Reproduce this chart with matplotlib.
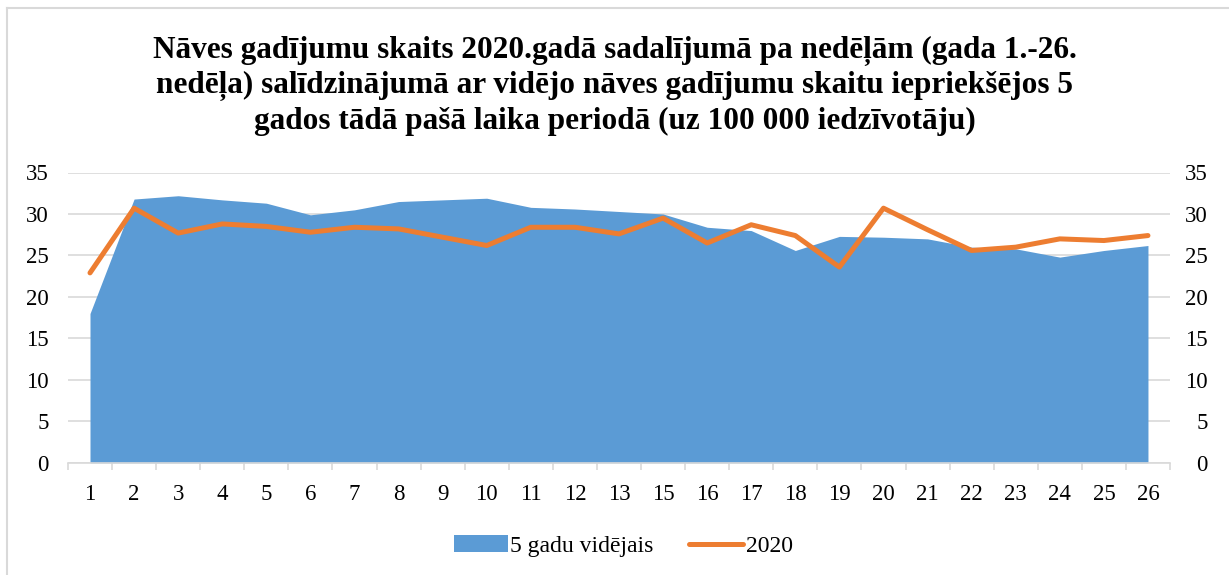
import numpy as np
import matplotlib.pyplot as plt
from matplotlib.patches import Patch
from matplotlib.lines import Line2D

plt.rcParams['font.family'] = ['Liberation Serif', 'DejaVu Serif']

weeks = ['1', '2', '3', '4', '5', '6', '7', '8', '9', '10', '11', '12', '13',
         '15', '16', '17', '18', '19', '20', '21', '22', '23', '24', '25', '26']
avg5 = [18.0, 31.8, 32.2, 31.7, 31.3, 29.9, 30.5, 31.5, 31.7, 31.9, 30.8, 30.6, 30.3,
        30.0, 28.4, 28.0, 25.6, 27.3, 27.2, 27.0, 26.0, 25.8, 24.8, 25.6, 26.2]
y2020 = [22.9, 30.7, 27.7, 28.8, 28.5, 27.8, 28.4, 28.2, 27.2, 26.2, 28.4, 28.4, 27.6,
         29.5, 26.5, 28.7, 27.4, 23.6, 30.7, 28.1, 25.6, 26.0, 27.0, 26.8, 27.4]

blue = '#5B9BD5'
orange = '#ED7D31'
grid = '#D9D9D9'

fig = plt.figure(figsize=(12.29, 5.75), dpi=100)
ax = fig.add_axes([0.0553, 0.195, 0.8967, 0.505])
x = np.arange(len(weeks))

ax.fill_between(x, 0, avg5, color=blue, lw=0, zorder=2)
ax.plot(x, y2020, color=orange, lw=3.6, solid_capstyle='round', solid_joinstyle='round', zorder=3)

ax.set_xlim(-0.5, len(weeks) - 0.5)
ax.set_ylim(0, 35)
ax.set_yticks(range(0, 36, 5))
ax.yaxis.grid(True, color=grid, lw=1.2, zorder=0)
ax.set_axisbelow(True)
for s in ['top', 'right', 'left']:
    ax.spines[s].set_visible(False)
ax.spines['bottom'].set_color(grid)
ax.spines['bottom'].set_linewidth(1.2)

ax.set_xticks(x)
ax.set_xticklabels(weeks)
ax.set_xticks(np.arange(-0.5, len(weeks)), minor=True)
ax.tick_params(axis='x', which='major', length=0, pad=15, labelsize=16.5)
ax.tick_params(axis='x', which='minor', length=5, color=grid, width=1.2)
ax.tick_params(axis='y', length=0, pad=14, labelsize=16.5)

ax2 = ax.twinx()
ax2.set_ylim(0, 35)
ax2.set_yticks(range(0, 36, 5))
for s in ax2.spines.values():
    s.set_visible(False)
ax2.tick_params(axis='y', length=0, pad=27, labelsize=16.5)
for lab in ax2.get_yticklabels():
    lab.set_horizontalalignment('right')

fig.text(0.5, 0.851, 'Nāves gadījumu skaits 2020.gadā sadalījumā pa nedēļām (gada 1.-26.\n'
         'nedēļa) salīdzinājumā ar vidējo nāves gadījumu skaitu iepriekšējos 5\n'
         'gados tādā pašā laika periodā (uz 100 000 iedzīvotāju)',
         ha='center', va='center', fontsize=22.5, fontweight='bold', linespacing=1.25)

handles = [Patch(facecolor=blue, edgecolor='none'),
           Line2D([0], [0], color=orange, lw=3.6, solid_capstyle='round')]
fig.legend(handles, ['5 gadu vidējais', '2020'], loc='center', bbox_to_anchor=(0.507, 0.05),
           ncol=2, frameon=False, fontsize=17, handlelength=2.3, handletextpad=0.1,
           columnspacing=1.5)

# outer chart border (left and top edges visible)
fig.add_artist(plt.Line2D([0.006, 0.006], [0, 0.986], color=grid, lw=1.5))
fig.add_artist(plt.Line2D([0.006, 1.0], [0.986, 0.986], color=grid, lw=1.5))

fig.savefig('out.png', dpi=100)
